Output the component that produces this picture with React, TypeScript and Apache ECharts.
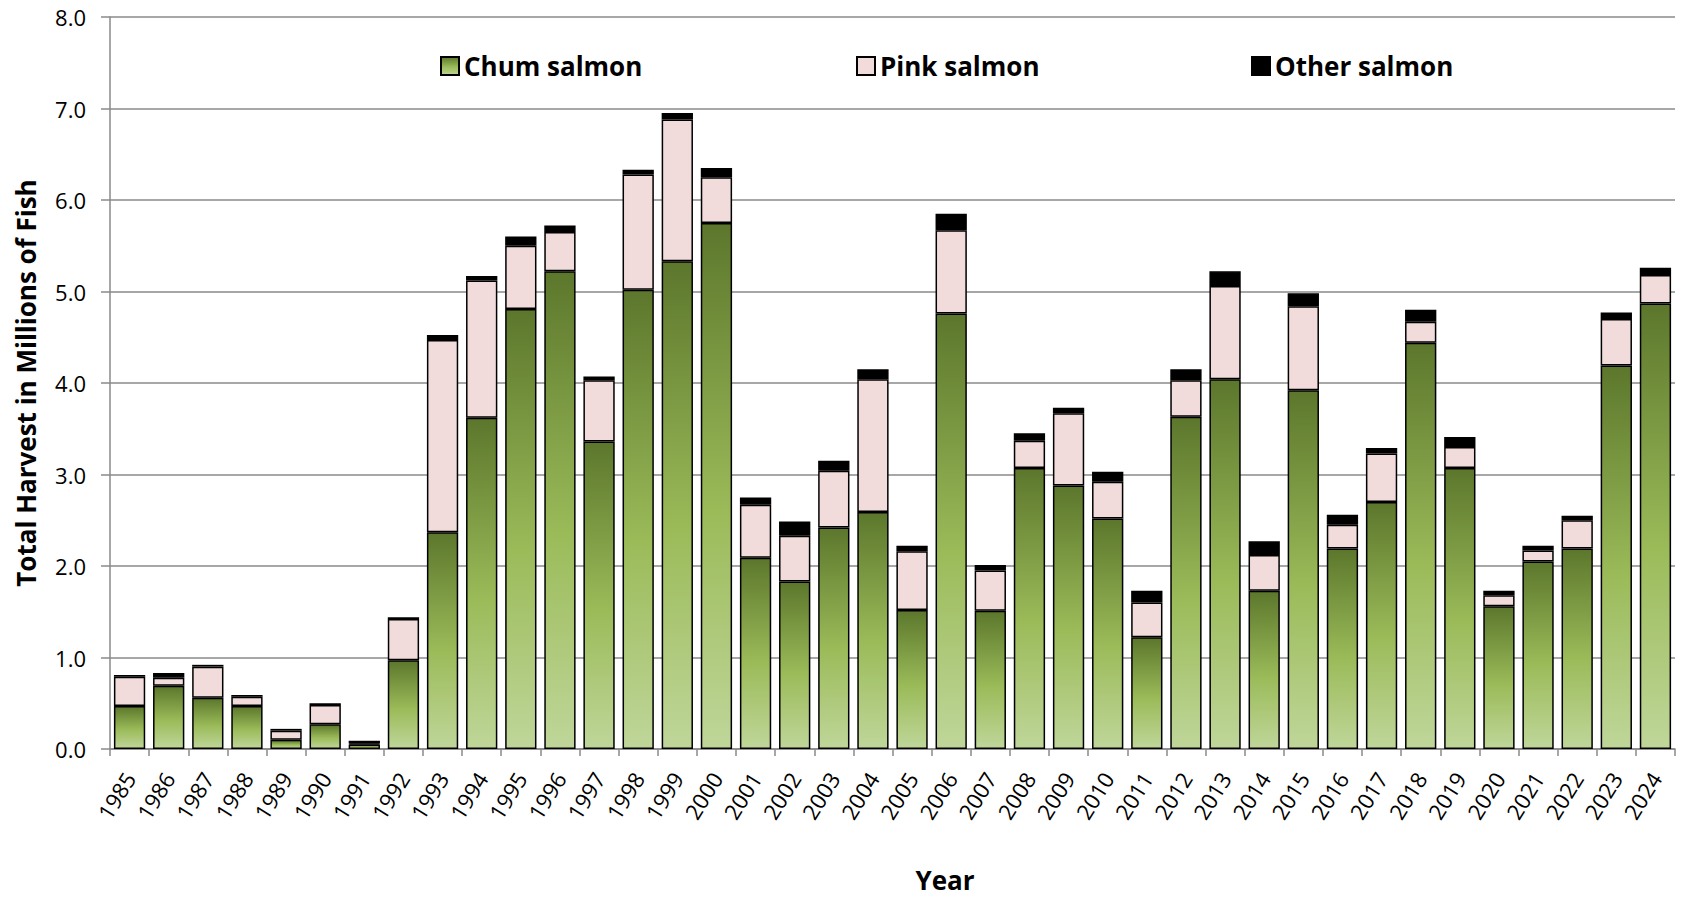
import React, { useEffect, useRef } from "react";
import * as echarts from "echarts";

const years = [
  "1985", "1986", "1987", "1988", "1989", "1990", "1991", "1992", "1993", "1994",
  "1995", "1996", "1997", "1998", "1999", "2000", "2001", "2002", "2003", "2004",
  "2005", "2006", "2007", "2008", "2009", "2010", "2011", "2012", "2013", "2014",
  "2015", "2016", "2017", "2018", "2019", "2020", "2021", "2022", "2023", "2024",
];

const chum = [
  0.47, 0.69, 0.56, 0.47, 0.10, 0.27, 0.05, 0.97, 2.37, 3.62,
  4.81, 5.22, 3.36, 5.02, 5.33, 5.75, 2.09, 1.83, 2.42, 2.59,
  1.52, 4.76, 1.51, 3.07, 2.88, 2.52, 1.22, 3.63, 4.04, 1.73,
  3.92, 2.19, 2.70, 4.44, 3.07, 1.56, 2.05, 2.19, 4.19, 4.87,
];

const pink = [
  0.32, 0.09, 0.34, 0.10, 0.10, 0.21, 0.01, 0.45, 2.10, 1.50,
  0.69, 0.43, 0.67, 1.26, 1.55, 0.50, 0.58, 0.50, 0.62, 1.45,
  0.64, 0.91, 0.44, 0.30, 0.79, 0.40, 0.38, 0.40, 1.02, 0.39,
  0.92, 0.26, 0.53, 0.23, 0.23, 0.12, 0.12, 0.31, 0.51, 0.31,
];

const other = [
  0.02, 0.05, 0.02, 0.02, 0.02, 0.02, 0.03, 0.02, 0.055, 0.05,
  0.10, 0.07, 0.04, 0.05, 0.07, 0.10, 0.08, 0.155, 0.11, 0.11,
  0.06, 0.18, 0.06, 0.08, 0.06, 0.11, 0.13, 0.12, 0.16, 0.15,
  0.14, 0.11, 0.06, 0.13, 0.11, 0.05, 0.05, 0.05, 0.07, 0.08,
];

const seriesNames = ["Chum salmon", "Pink salmon", "Other salmon"];

const FONT = "'Open Sans', 'Noto Sans', sans-serif";

export default function App() {
  const ref = useRef<HTMLDivElement>(null);

  useEffect(() => {
    if (!ref.current) return;
    const chart = echarts.init(ref.current, null, { renderer: "svg" });

    const greenGrad = new echarts.graphic.LinearGradient(0, 0, 0, 1, [
      { offset: 0, color: "#5c772c" },
      { offset: 0.55, color: "#9bbb59" },
      { offset: 1, color: "#bfd699" },
    ]);

    const legendBase = {
      top: 51,
      padding: 0,
      itemWidth: 18,
      itemHeight: 18,
      icon: "rect",
      selectedMode: false,
      textStyle: {
        fontFamily: FONT,
        fontSize: 26,
        fontWeight: "bold",
        color: "#000",
        lineHeight: 30,
      },
    };

    const option: any = {
      animation: false,
      backgroundColor: "#ffffff",
      legend: [
        { ...legendBase, left: 440, data: [seriesNames[0]] },
        { ...legendBase, left: 856, data: [seriesNames[1]] },
        { ...legendBase, left: 1251, data: [seriesNames[2]] },
      ],
      grid: { left: 110, right: 9, top: 17, bottom: 148, containLabel: false },
      xAxis: {
        type: "category",
        data: years,
        boundaryGap: true,
        axisLine: { show: true, lineStyle: { color: "#8a8a8a", width: 1.5 } },
        axisTick: {
          show: true,
          interval: 0,
          length: 7,
          lineStyle: { color: "#8a8a8a", width: 1.5 },
        },
        axisLabel: {
          interval: 0,
          rotate: 58,
          margin: 25,
          fontFamily: FONT,
          fontSize: 22,
          color: "#000",
        },
      },
      yAxis: {
        type: "value",
        min: 0,
        max: 8,
        interval: 1,
        axisLine: { show: true, lineStyle: { color: "#8a8a8a", width: 1.5 } },
        axisTick: { show: true, length: 9, lineStyle: { color: "#8a8a8a", width: 1.5 } },
        splitLine: { show: true, lineStyle: { color: "#8a8a8a", width: 1.5 } },
        axisLabel: {
          margin: 24,
          fontFamily: FONT,
          fontSize: 22,
          color: "#000",
          formatter: (v: number) => v.toFixed(1),
        },
      },
      series: [
        {
          name: seriesNames[0],
          type: "bar",
          stack: "total",
          data: chum,
          barWidth: "80%",
          itemStyle: { color: greenGrad, borderColor: "#000", borderWidth: 1.5 },
          emphasis: { disabled: true },
        },
        {
          name: seriesNames[1],
          type: "bar",
          stack: "total",
          data: pink,
          barWidth: "80%",
          itemStyle: { color: "#f2dcdb", borderColor: "#000", borderWidth: 1.5 },
          emphasis: { disabled: true },
        },
        {
          name: seriesNames[2],
          type: "bar",
          stack: "total",
          data: other,
          barWidth: "80%",
          itemStyle: { color: "#000000", borderColor: "#000", borderWidth: 1.5 },
          emphasis: { disabled: true },
        },
      ],
      graphic: [
        {
          type: "text",
          x: 26,
          y: 383,
          rotation: Math.PI / 2,
          style: {
            text: "Total Harvest in Millions of Fish",
            font: `bold 26px ${FONT}`,
            fill: "#000",
            align: "center",
            verticalAlign: "middle",
          },
        },
        {
          type: "text",
          x: 945,
          y: 880,
          style: {
            text: "Year",
            font: `bold 26px ${FONT}`,
            fill: "#000",
            align: "center",
            verticalAlign: "middle",
          },
        },
      ],
    };

    chart.setOption(option);
    return () => chart.dispose();
  }, []);

  return (
    <div
      ref={ref}
      style={{ position: "fixed", left: 0, top: 0, width: 1684, height: 897 }}
    />
  );
}
